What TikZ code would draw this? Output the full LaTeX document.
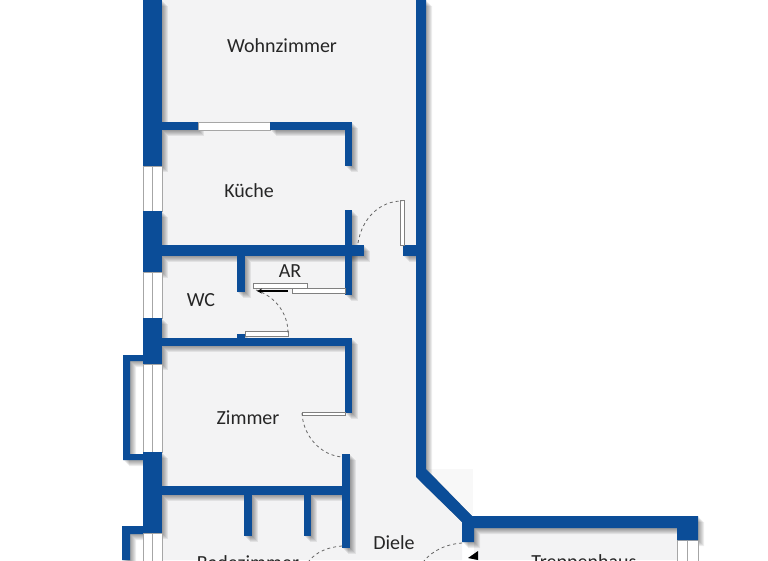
\documentclass[tikz,border=0pt]{standalone}
\usepackage{xcolor}
\usepackage{fontspec}
\setmainfont{Carlito}
\definecolor{wallblue}{HTML}{0B4D98}
\definecolor{floorgrey}{HTML}{F3F3F4}

%all wall pieces, in image pixels
\newcommand{\wallshapes}{
    %left outer wall
    \fill (143,0) rectangle (162,166);
    \fill (143,211) rectangle (162,272);
    \fill (143,318) rectangle (162,364);
    \fill (143,452) rectangle (162,533);
    %bays
    \fill (143,355) -- (123,355) -- (123,460) -- (143,460) -- (143,454) -- (130,454) -- (130,361) -- (143,361) -- cycle;
    \fill (143,526) -- (122,526) -- (122,560) -- (130,560) -- (130,534) -- (143,534) -- cycle;
    %wall below Wohnzimmer
    \fill (162,122) rectangle (198,130);
    \fill (270,122) rectangle (352,130);
    \fill (345,130) rectangle (352,166);
    \fill (345,210) rectangle (352,295);
    %wall above WC
    \fill (162,245) rectangle (364,256);
    \fill (403,245) rectangle (416,256);
    \fill (237,256) rectangle (245,292);
    %wall above Zimmer
    \fill (162,338) rectangle (352,346);
    \fill (237,334) rectangle (245,338);
    \fill (345,346) rectangle (352,413);
    %wall below Zimmer
    \fill (342,454) rectangle (350,548);
    \fill (162,486) rectangle (342,495);
    \fill (244,495) rectangle (252,536);
    \fill (304,495) rectangle (311,536);
    %right outer wall and stairwell
    \fill (416,0) -- (426,0) -- (426,469) -- (472,516) -- (698,516) -- (698,540) -- (677,540) -- (677,528) -- (474,528) -- (474,542) -- (462,542) -- (462,522) -- (416,477) -- cycle;
}

\begin{document}
\begin{tikzpicture}
    [x=1pt,y=-1pt,
    room/.style={font=\fontsize{20}{22}\selectfont,text=black!85},
    windowpane/.style={fill=white,draw=black!35,line width=0.5pt},
    doorleaf/.style={fill=white,draw=black!50,line width=0.8pt},
    doorswing/.style={dashed,black!60,line width=0.8pt}]

\useasboundingbox (0,0) rectangle (768,560);
\clip (0,0) rectangle (768,560);

%floor
\fill[floorgrey!60] (426,469) rectangle (473,528);
\fill[floorgrey] (162,0) -- (416,0) -- (416,477) -- (462,522) -- (462,560) -- (162,560) -- cycle;
\fill[floorgrey] (474,528) rectangle (677,560);

%wall shadow
\foreach \d in {1,2,3,4,5,6}
    \begin{scope}[shift={(\d,\d)},black,opacity=0.07]
    \wallshapes
    \end{scope};

%windows
\draw[windowpane] (198,122) rectangle (270,130);
\foreach \wy/\wh in {166/45,272/46}
    \draw[windowpane] (143,\wy) rectangle +(9,\wh) (152,\wy) rectangle +(10,\wh);
\foreach \wy/\wh in {364/88,533/30}
    \draw[windowpane] (143,\wy) rectangle +(9,\wh) (152,\wy) rectangle +(10,\wh);
\draw[windowpane] (677,540) rectangle +(10,22) (687,540) rectangle +(11,22);

%walls
\begin{scope}[wallblue]
\wallshapes
\end{scope}

%doors
\draw[doorleaf] (400,200) rectangle (404,245);
\draw[doorswing] (358,243) .. controls (362,218) and (380,201) .. (402,201);
\draw[doorleaf] (253,283) rectangle (307,288);
\draw[doorleaf] (292,288) rectangle (345,293);
\draw[doorleaf] (245,331) rectangle (288,336);
\draw[doorswing] (256,290) .. controls (274,296) and (288,312) .. (288,333);
\draw[-stealth,black,line width=1.2pt] (288,291) -- (257,291);
\draw[doorleaf] (302,412) rectangle (345,415);
\draw[doorswing] (302,413) .. controls (303,436) and (321,456) .. (343,457);
\draw[doorswing] (342,546) .. controls (328,547) and (316,552) .. (309,561);
\draw[doorswing] (462,543) .. controls (447,544) and (433,550) .. (424,561);
\fill[black] (478,551) -- (468,558) -- (478,560) -- cycle;

%room names
\node[room] (wohnzimmer) at (282,46) {Wohnzimmer};
\node[room] (kueche) at (249,191) {Küche};
\node[room] (ar) at (290,271) {AR};
\node[room] (wc) at (201,300) {WC};
\node[room] (zimmer) at (248,418) {Zimmer};
\node[room] (badezimmer) at (248,563) {Badezimmer};
\node[room] (diele) at (394,543) {Diele};
\node[room] (treppenhaus) at (584,563) {Treppenhaus};

\end{tikzpicture}
\end{document}
